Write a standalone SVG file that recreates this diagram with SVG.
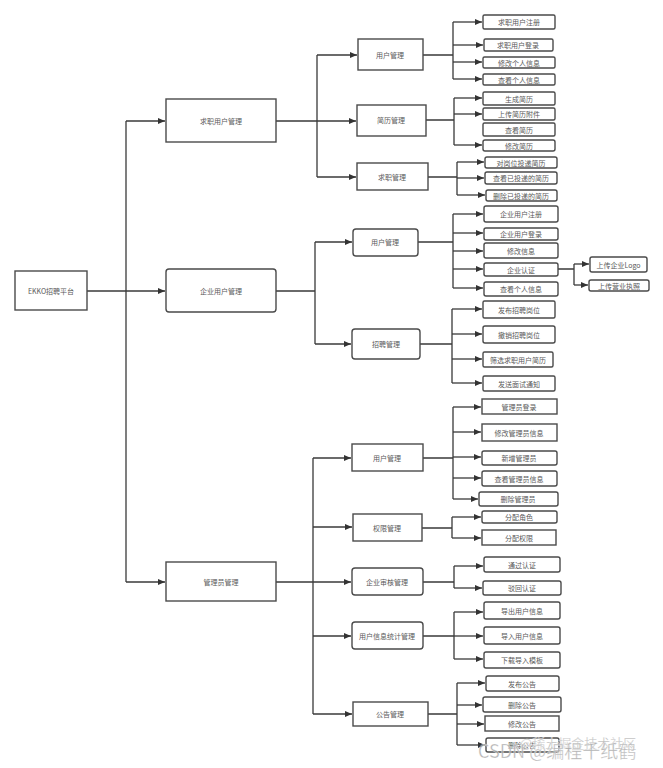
<svg xmlns="http://www.w3.org/2000/svg" width="663" height="768" viewBox="0 0 663 768">
<style>
.b{fill:#fff;stroke:#4a4a4a;stroke-width:1.4}
.t{font-family:"Noto Sans CJK SC","Liberation Sans",sans-serif;font-size:7px;fill:#5a5a5a;text-anchor:middle;dominant-baseline:central}
.c{fill:none;stroke:#3a3a3a;stroke-width:1.3}
.w{font-family:"Noto Sans CJK SC","Liberation Sans",sans-serif;fill:#9a9a9a;fill-opacity:0.75;stroke:#fff;stroke-width:0.6;stroke-opacity:0.6}
</style>
<defs>
<marker id="a" markerUnits="userSpaceOnUse" markerWidth="8" markerHeight="8" viewBox="0 0 8 8" refX="7" refY="4" orient="auto">
<path d="M0,1 L7,4 L0,7 Z" fill="#333"/>
</marker>
</defs>
<rect width="663" height="768" fill="#fff"/>
<g id="connectors" class="c">
<path d="M87,291 H165" marker-end="url(#a)"/>
<path d="M126,121 V582"/>
<path d="M126,121 H165" marker-end="url(#a)"/>
<path d="M126,582 H165" marker-end="url(#a)"/>

<path d="M276,121 H317 M317,55 V177"/>
<path d="M317,55 H357" marker-end="url(#a)"/>
<path d="M317,121 H356" marker-end="url(#a)"/>
<path d="M317,177 H356" marker-end="url(#a)"/>

<path d="M423,55 H453 M453,22 V79"/>
<path d="M453,22 H482" marker-end="url(#a)"/>
<path d="M453,45 H483" marker-end="url(#a)"/>
<path d="M453,62 H482" marker-end="url(#a)"/>
<path d="M453,79 H482" marker-end="url(#a)"/>

<path d="M426,120 H454 M454,98 V145"/>
<path d="M454,98 H482" marker-end="url(#a)"/>
<path d="M454,114 H482" marker-end="url(#a)"/>
<path d="M454,145 H482" marker-end="url(#a)"/>

<path d="M428,177 H457 M457,162 V195"/>
<path d="M457,162 H484" marker-end="url(#a)"/>
<path d="M457,178 H484" marker-end="url(#a)"/>
<path d="M457,195 H485" marker-end="url(#a)"/>

<path d="M276,291 H315 M315,242 V344"/>
<path d="M315,242 H352" marker-end="url(#a)"/>
<path d="M315,344 H351" marker-end="url(#a)"/>

<path d="M418,242 H453 M453,214 V288"/>
<path d="M453,214 H483" marker-end="url(#a)"/>
<path d="M453,233 H483" marker-end="url(#a)"/>
<path d="M453,251 H483" marker-end="url(#a)"/>
<path d="M453,269 H483" marker-end="url(#a)"/>
<path d="M453,288 H483" marker-end="url(#a)"/>

<path d="M558,269 H574 M574,264 V285"/>
<path d="M574,264 H589" marker-end="url(#a)"/>
<path d="M574,285 H588" marker-end="url(#a)"/>

<path d="M420,344 H452 M452,309 V383"/>
<path d="M452,309 H482" marker-end="url(#a)"/>
<path d="M452,334 H482" marker-end="url(#a)"/>
<path d="M452,359 H482" marker-end="url(#a)"/>
<path d="M452,383 H482" marker-end="url(#a)"/>

<path d="M276,582 H313 M313,458 V714"/>
<path d="M313,458 H351" marker-end="url(#a)"/>
<path d="M313,527 H352" marker-end="url(#a)"/>
<path d="M313,582 H351" marker-end="url(#a)"/>
<path d="M313,636 H351" marker-end="url(#a)"/>
<path d="M313,714 H352" marker-end="url(#a)"/>

<path d="M423,458 H453 M453,407 V499"/>
<path d="M453,407 H481" marker-end="url(#a)"/>
<path d="M453,432 H481" marker-end="url(#a)"/>
<path d="M453,457 H481" marker-end="url(#a)"/>
<path d="M453,478 H481" marker-end="url(#a)"/>
<path d="M453,499 H478" marker-end="url(#a)"/>

<path d="M422,528 H452 M452,517 V538"/>
<path d="M452,517 H481" marker-end="url(#a)"/>
<path d="M452,538 H481" marker-end="url(#a)"/>

<path d="M423,582 H454 M454,566 V588"/>
<path d="M454,566 H483" marker-end="url(#a)"/>
<path d="M454,588 H482" marker-end="url(#a)"/>

<path d="M423,636 H454 M454,612 V659"/>
<path d="M454,612 H483" marker-end="url(#a)"/>
<path d="M454,636 H483" marker-end="url(#a)"/>
<path d="M454,659 H483" marker-end="url(#a)"/>

<path d="M428,714 H457 M457,683 V745"/>
<path d="M457,683 H485" marker-end="url(#a)"/>
<path d="M457,705 H482" marker-end="url(#a)"/>
<path d="M457,724 H484" marker-end="url(#a)"/>
<path d="M457,745 H485" marker-end="url(#a)"/>
</g>

<g id="root"><rect class="b" x="15" y="271" width="72" height="39"/><text class="t" x="51" y="291">EKKO招聘平台</text></g>
<g id="jobseeker"><rect class="b" x="166" y="99" width="110" height="43"/><text class="t" x="221" y="121">求职用户管理</text></g>
<g id="enterprise"><rect class="b" x="166" y="269" width="110" height="43" rx="3"/><text class="t" x="221" y="291">企业用户管理</text></g>
<g id="admin"><rect class="b" x="166" y="562" width="110" height="39"/><text class="t" x="221" y="582">管理员管理</text></g>

<g id="js-user"><rect class="b" x="358" y="39" width="65" height="31"/><text class="t" x="390" y="55">用户管理</text></g>
<g id="js-resume"><rect class="b" x="357" y="105" width="69" height="31"/><text class="t" x="391" y="120">简历管理</text></g>
<g id="js-job"><rect class="b" x="357" y="163" width="71" height="27"/><text class="t" x="392" y="177">求职管理</text></g>

<g id="js-u1"><rect class="b" x="483" y="15" width="72" height="14" rx="1.5"/><text class="t" x="519" y="22">求职用户注册</text></g>
<g id="js-u2"><rect class="b" x="484" y="39" width="69" height="12" rx="1.5"/><text class="t" x="518" y="45">求职用户登录</text></g>
<g id="js-u3"><rect class="b" x="483" y="57" width="72" height="11" rx="1.5"/><text class="t" x="519" y="62.5">修改个人信息</text></g>
<g id="js-u4"><rect class="b" x="483" y="74" width="72" height="11" rx="1.5"/><text class="t" x="519" y="79.5">查看个人信息</text></g>

<g id="js-r1"><rect class="b" x="483" y="92" width="72" height="13" rx="1.5"/><text class="t" x="519" y="98.5">生成简历</text></g>
<g id="js-r2"><rect class="b" x="483" y="108" width="72" height="12" rx="1.5"/><text class="t" x="519" y="114">上传简历附件</text></g>
<g id="js-r3"><rect class="b" x="483" y="123" width="72" height="13" rx="1.5"/><text class="t" x="519" y="129.5">查看简历</text></g>
<g id="js-r4"><rect class="b" x="483" y="140" width="72" height="11" rx="2"/><text class="t" x="519" y="145.5">修改简历</text></g>

<g id="js-j1"><rect class="b" x="485" y="157" width="72" height="11" rx="2"/><text class="t" x="521" y="162.5">对岗位投递简历</text></g>
<g id="js-j2"><rect class="b" x="485" y="172" width="72" height="12" rx="2"/><text class="t" x="521" y="178">查看已投递的简历</text></g>
<g id="js-j3"><rect class="b" x="486" y="190" width="71" height="11" rx="2"/><text class="t" x="521" y="195.5">删除已投递的简历</text></g>

<g id="en-user"><rect class="b" x="353" y="229" width="65" height="27" rx="3"/><text class="t" x="385" y="242">用户管理</text></g>
<g id="en-recruit"><rect class="b" x="352" y="329" width="68" height="30" rx="3"/><text class="t" x="386" y="344">招聘管理</text></g>

<g id="en-u1"><rect class="b" x="484" y="206" width="74" height="16" rx="2"/><text class="t" x="521" y="214">企业用户注册</text></g>
<g id="en-u2"><rect class="b" x="484" y="228" width="74" height="12" rx="2"/><text class="t" x="521" y="234">企业用户登录</text></g>
<g id="en-u3"><rect class="b" x="484" y="243" width="74" height="15" rx="2"/><text class="t" x="521" y="250.5">修改信息</text></g>
<g id="en-u4"><rect class="b" x="484" y="263" width="74" height="13" rx="2"/><text class="t" x="521" y="269.5">企业认证</text></g>
<g id="en-u5"><rect class="b" x="484" y="282" width="74" height="14" rx="2"/><text class="t" x="521" y="289">查看个人信息</text></g>
<g id="en-c1"><rect class="b" x="590" y="257" width="57" height="15" rx="2"/><text class="t" x="618.5" y="264.5">上传企业Logo</text></g>
<g id="en-c2"><rect class="b" x="589" y="280" width="60" height="11" rx="2"/><text class="t" x="619" y="285.5">上传营业执照</text></g>

<g id="en-r1"><rect class="b" x="483" y="301" width="72" height="17" rx="1.5"/><text class="t" x="519" y="309.5">发布招聘岗位</text></g>
<g id="en-r2"><rect class="b" x="483" y="326" width="72" height="17" rx="2"/><text class="t" x="519" y="334.5">撤销招聘岗位</text></g>
<g id="en-r3"><rect class="b" x="483" y="352" width="70" height="15" rx="1.5"/><text class="t" x="518" y="359.5">筛选求职用户简历</text></g>
<g id="en-r4"><rect class="b" x="483" y="376" width="72" height="15" rx="1.5"/><text class="t" x="519" y="383.5">发送面试通知</text></g>

<g id="ad-user"><rect class="b" x="352" y="444" width="71" height="27"/><text class="t" x="387" y="458">用户管理</text></g>
<g id="ad-perm"><rect class="b" x="353" y="514" width="69" height="27"/><text class="t" x="387" y="528">权限管理</text></g>
<g id="ad-audit"><rect class="b" x="352" y="568" width="71" height="27" rx="3"/><text class="t" x="387" y="582">企业审核管理</text></g>
<g id="ad-stat"><rect class="b" x="352" y="622" width="71" height="27" rx="3"/><text class="t" x="387" y="636">用户信息统计管理</text></g>
<g id="ad-notice"><rect class="b" x="353" y="702" width="75" height="24"/><text class="t" x="390" y="714">公告管理</text></g>

<g id="ad-u1"><rect class="b" x="482" y="399" width="75" height="15"/><text class="t" x="519" y="406.5">管理员登录</text></g>
<g id="ad-u2"><rect class="b" x="482" y="424" width="75" height="17"/><text class="t" x="519" y="432.5">修改管理员信息</text></g>
<g id="ad-u3"><rect class="b" x="482" y="451" width="75" height="14" rx="2"/><text class="t" x="519" y="458">新增管理员</text></g>
<g id="ad-u4"><rect class="b" x="482" y="471" width="75" height="15" rx="2"/><text class="t" x="519" y="478.5">查看管理员信息</text></g>
<g id="ad-u5"><rect class="b" x="479" y="492" width="79" height="14" rx="2"/><text class="t" x="518" y="499">删除管理员</text></g>
<g id="ad-p1"><rect class="b" x="482" y="511" width="75" height="12" rx="2"/><text class="t" x="519" y="517">分配角色</text></g>
<g id="ad-p2"><rect class="b" x="482" y="530" width="74" height="15"/><text class="t" x="519" y="537.5">分配权限</text></g>
<g id="ad-a1"><rect class="b" x="484" y="557" width="76" height="15" rx="2"/><text class="t" x="522" y="564.5">通过认证</text></g>
<g id="ad-a2"><rect class="b" x="483" y="581" width="78" height="14" rx="2"/><text class="t" x="522" y="588">驳回认证</text></g>
<g id="ad-s1"><rect class="b" x="484" y="602" width="76" height="17" rx="2"/><text class="t" x="522" y="610.5">导出用户信息</text></g>
<g id="ad-s2"><rect class="b" x="484" y="627" width="76" height="17" rx="2"/><text class="t" x="522" y="635.5">导入用户信息</text></g>
<g id="ad-s3"><rect class="b" x="484" y="652" width="76" height="16" rx="2"/><text class="t" x="522" y="660">下载导入模板</text></g>
<g id="ad-n1"><rect class="b" x="486" y="676" width="73" height="15" rx="2"/><text class="t" x="522" y="683.5">发布公告</text></g>
<g id="ad-n2"><rect class="b" x="483" y="697" width="78" height="15" rx="2"/><text class="t" x="522" y="704.5">删除公告</text></g>
<g id="ad-n3"><rect class="b" x="485" y="716" width="74" height="15"/><text class="t" x="522" y="723.5">修改公告</text></g>
<g id="ad-n4"><rect class="b" x="486" y="738" width="73" height="14" rx="2"/><text class="t" x="522" y="745">删除公告</text></g>

<g id="watermark">
<text class="w" x="520" y="748" font-size="13">@稀土掘金技术社区</text>
<text class="w" x="478" y="758" font-size="18">CSDN @编程千纸鹤</text>
</g>
</svg>
